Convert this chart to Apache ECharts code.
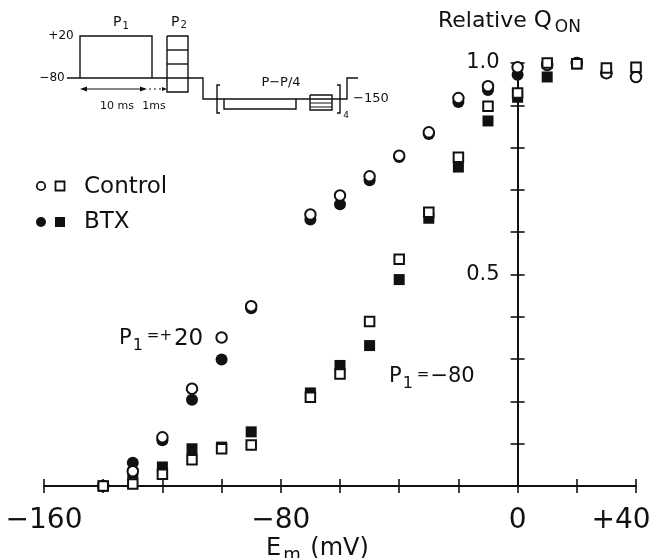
<!DOCTYPE html>
<html><head><meta charset="utf-8">
<script src="https://cdn.jsdelivr.net/npm/echarts@6/dist/echarts.min.js"></script>
<style>html,body{margin:0;padding:0;background:#fff}#c{width:662px;height:558px}</style>
</head><body><div id="c"></div>
<script>
// Membrane potential (mV)
const volts = [-140,-130,-120,-110,-100,-90,-70,-60,-50,-40,-30,-20,-10,0,10,20,30,40];
// P1 = +20 (circles)
const controlP20 = [0.0,0.035,0.115,0.23,0.351,0.425,0.642,0.687,0.732,0.781,0.836,0.917,0.945,0.99,0.995,1.0,0.976,0.967];
const btxP20     = [0.0,0.055,0.108,0.204,0.299,0.42,0.63,0.666,0.723,0.778,0.832,0.908,0.936,0.972,0.998,1.0,0.976,null];
// P1 = -80 (squares)
const controlM80 = [0.0,0.005,0.028,0.062,0.088,0.097,0.21,0.265,0.389,0.536,0.647,0.777,0.898,0.929,1.0,0.998,0.988,0.99];
const btxM80     = [0.0,0.03,0.045,0.088,0.092,0.128,0.22,0.285,0.332,0.488,0.633,0.754,0.863,0.919,0.967,0.998,0.979,null];
const xTickLabels = {'-160':'\u2212160','-80':'\u221280','0':'0','40':'+40'};
const yTickLabels = ['0.5','1.0'];

const FONT = '"DejaVu Sans", "Liberation Sans", Arial, sans-serif';
const INK = '#111';
function pairs(ys){ return volts.map((v,i)=> ys[i]==null ? null : [v, ys[i]]).filter(d=>d); }

const chart = echarts.init(document.getElementById('c'), null, {renderer:'canvas'});

function line(pts, w){ return {type:'polyline', shape:{points:pts}, style:{stroke:INK, lineWidth:w||1.4, fill:null}, silent:true}; }
function txt(x,y,t,size,align,extra){ return {type:'text', x:x, y:y, style:Object.assign({text:t, font:(size)+'px '+FONT, fill:INK, align:align||'center', verticalAlign:'middle'}, extra||{}), silent:true}; }
function tri(pts){ return {type:'polygon', shape:{points:pts}, style:{fill:INK}, silent:true}; }
function rt(x,y,text,rich){ return {type:'text', x:x, y:y, style:{text:text, rich:rich, verticalAlign:'middle', align:'left'}, silent:true}; }
function f(size,extra){ return Object.assign({font:size+'px '+FONT, fill:INK}, extra||{}); }

const graphics = [
  // inset protocol diagram
  line([[67,78],[203,78],[203,99],[347,99],[347,78],[358,78]]),
  line([[80,78],[80,36],[152,36],[152,78]]),
  line([[167,36],[188,36],[188,92],[167,92],[167,36]]),
  line([[167,50],[188,50]]), line([[167,64],[188,64]]),
  line([[82,89],[145,89]],1.2),
  tri([[80,89],[87,86.5],[87,91.5]]), tri([[147,89],[140,86.5],[140,91.5]]),
  line([[149,89],[151,89]],1.2), line([[154,89],[156,89]],1.2), line([[159,89],[161,89]],1.2),
  tri([[167,89],[162,87],[162,91]]),
  line([[220,85],[217,85],[217,113],[220,113]]),
  line([[337,85],[340,85],[340,113],[337,113]]),
  line([[224,99],[224,109],[296,109],[296,99]]),
  line([[310,95],[332,95],[332,110],[310,110],[310,95]]),
  line([[310,103],[332,103]],1), line([[310,107],[332,107]],1),
  txt(61,36,'+20',12), txt(52,78,'\u221280',12),
  rt(113,22,'{a|P}{b|1}',{a:f(14), b:f(10,{padding:[8,0,0,1]})}),
  rt(171,22,'{a|P}{b|2}',{a:f(14), b:f(10,{padding:[6,0,0,1]})}),
  txt(117,106,'10 ms',11), txt(154,106,'1ms',11),
  txt(281,83,'P\u2212P/4',13),
  txt(346,116,'4',9),
  txt(353,99,'\u2212150',13,'left'),
  // legend
  {type:'circle', shape:{cx:41, cy:186, r:4.2}, style:{fill:'#fff', stroke:INK, lineWidth:1.8}, silent:true},
  {type:'rect', shape:{x:55.5, y:181.5, width:9, height:9}, style:{fill:'#fff', stroke:INK, lineWidth:1.8}, silent:true},
  txt(84,187,'Control',23,'left'),
  {type:'circle', shape:{cx:41, cy:222, r:5}, style:{fill:INK}, silent:true},
  {type:'rect', shape:{x:55, y:217, width:10, height:10}, style:{fill:INK}, silent:true},
  txt(84,222,'BTX',23,'left'),
  // annotations
  rt(119,339,'{a|P}{b|1}{c|=+}{d|20}',{a:f(21), b:f(16,{padding:[13,4,0,1]}), c:f(15,{padding:[0,2,5,0]}), d:f(23)}),
  rt(389,377,'{a|P}{b|1}{c|=}{a|\u221280}',{a:f(21), b:f(16,{padding:[13,4,0,1]}), c:f(15,{padding:[0,1,4,0]})}),
  // titles
  rt(438,21,'{a|Relative }{q|Q}{b|ON}',{a:f(22), q:f(23), b:f(17,{padding:[14,0,0,3]})}),
  rt(266,549,'{a|E}{b|m}{a| (mV)}',{a:f(24), b:f(18,{padding:[12,2,0,2]})})
];

const axisCommon = {min:-160, max:40, interval:20, splitLine:{show:false}};
const option = {
  animation:false,
  backgroundColor:'#fff',
  grid:{left:44, right:26, top:63, bottom:72, containLabel:false, outerBoundsMode:'none'},
  xAxis:[
    Object.assign({type:'value', position:'bottom',
      axisLine:{show:true, onZero:false, lineStyle:{color:INK, width:2}},
      axisTick:{show:true, inside:false, length:7, lineStyle:{color:INK, width:1.6}},
      axisLabel:{show:true, margin:21, fontFamily:FONT, fontSize:28, color:INK,
        formatter:v=>{ const s = xTickLabels[String(Math.round(v))]; if(!s) return ''; return v>=40 ? '{r|'+s+'}' : s; },
        rich:{r:{fontFamily:FONT, fontSize:28, color:INK, padding:[0,30,0,0]}}}}, axisCommon),
    Object.assign({type:'value', position:'top', offset:-423,
      axisLine:{show:false, onZero:false},
      axisTick:{show:true, inside:false, length:7, lineStyle:{color:INK, width:1.6}},
      axisLabel:{show:false}}, axisCommon)
  ],
  yAxis:[
    {type:'value', position:'left', offset:-473.6, min:0, max:1, interval:0.1, splitLine:{show:false},
      axisLine:{show:true, onZero:false, lineStyle:{color:INK, width:2}},
      axisTick:{show:true, inside:false, length:7, lineStyle:{color:INK, width:1.6}},
      axisLabel:{show:true, margin:18, fontFamily:FONT, fontSize:21, color:INK,
        formatter:v=>{ const s=v.toFixed(1); return yTickLabels.indexOf(s)>=0 ? s : ''; }}},
    {type:'value', position:'right', offset:-118.4, min:0, max:1, interval:0.1, splitLine:{show:false},
      axisLine:{show:false, onZero:false},
      axisTick:{show:true, inside:false, length:7, lineStyle:{color:INK, width:1.6}},
      axisLabel:{show:false}}
  ],
  series:[
    {type:'scatter', name:'BTX P1=+20', data:pairs(btxP20), symbol:'circle', symbolSize:12, clip:false,
      itemStyle:{color:INK, opacity:1}, z:3},
    {type:'scatter', name:'BTX P1=-80', data:pairs(btxM80), symbol:'rect', symbolSize:11, clip:false,
      itemStyle:{color:INK, opacity:1}, z:3},
    {type:'scatter', name:'Control P1=+20', data:pairs(controlP20), symbol:'circle', symbolSize:10.5, clip:false,
      itemStyle:{color:'#fff', borderColor:INK, borderWidth:2, opacity:1}, z:4},
    {type:'scatter', name:'Control P1=-80', data:pairs(controlM80), symbol:'rect', symbolSize:9.5, clip:false,
      itemStyle:{color:'#fff', borderColor:INK, borderWidth:2, opacity:1}, z:4}
  ],
  graphic:graphics
};
chart.setOption(option);
</script></body></html>
